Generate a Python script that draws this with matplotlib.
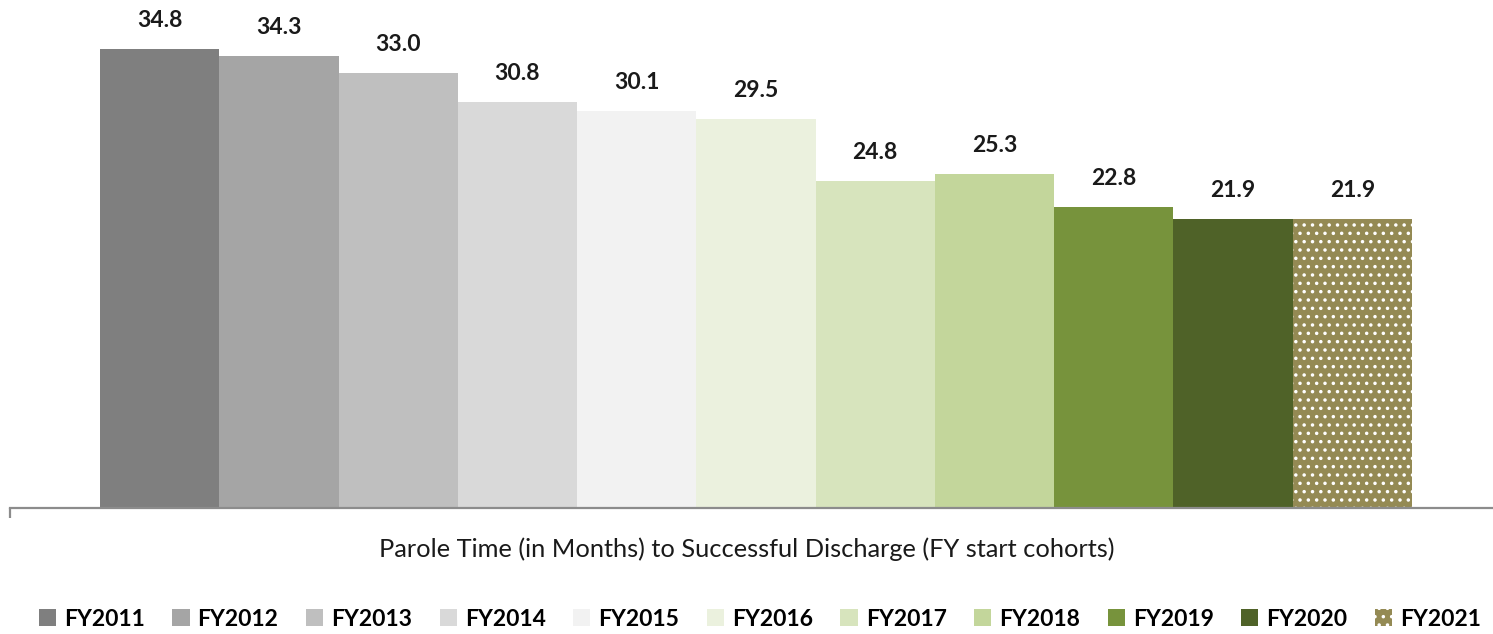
import matplotlib
matplotlib.use("Agg")
import matplotlib.pyplot as plt
from matplotlib.patches import Patch

plt.rcParams['font.family'] = ['Lato', 'DejaVu Sans']
plt.rcParams['hatch.linewidth'] = 1.3

years = ["FY2011", "FY2012", "FY2013", "FY2014", "FY2015", "FY2016",
         "FY2017", "FY2018", "FY2019", "FY2020", "FY2021"]
months = [34.8, 34.3, 33.0, 30.8, 30.1, 29.5, 24.8, 25.3, 22.8, 21.9, 21.9]
colors = ["#7f7f7f", "#a5a5a5", "#bfbfbf", "#d9d9d9", "#f2f2f2", "#ebf1de",
          "#d7e4bd", "#c3d69b", "#77933c", "#4f6228", "#948a54"]
category = "Parole Time (in Months) to Successful Discharge (FY start cohorts)"

fig = plt.figure(figsize=(14.93, 6.34), dpi=100)
ax = fig.add_axes([10/1493, 126/634, 1 - 10/1493, 501/634])

handles = []
for i, (yr, v, c) in enumerate(zip(years, months, colors)):
    if yr == "FY2021":  # dotted fill like the original
        ax.bar(i, v, width=1.0, color=c, edgecolor="white", linewidth=0, hatch="..")
        handles.append(Patch(facecolor=c, edgecolor="white", linewidth=0, hatch="..", label=yr))
    else:
        ax.bar(i, v, width=1.0, color=c, linewidth=0)
        handles.append(Patch(facecolor=c, linewidth=0, label=yr))
    ax.annotate(f"{v:.1f}", (i, v), xytext=(0, 13), textcoords="offset points",
                ha="center", va="bottom", fontsize=16.5, fontweight="bold", color="#1a1a1a")

ax.set_xlim(-1.255, 11.18)
ax.set_ylim(0, 38)
for s in ["top", "right", "left"]:
    ax.spines[s].set_visible(False)
ax.spines["bottom"].set_color("#8c8c8c")
ax.spines["bottom"].set_linewidth(1.6)
ax.set_yticks([])
ax.set_xticks([-1.255])
ax.tick_params(axis="x", length=7, width=1.6, color="#8c8c8c", labelbottom=False)

fig.text(747/1493, 1 - 549/634, category, ha="center", va="center", fontsize=18.3, color="#1a1a1a")

fig.legend(handles=handles, loc="center", bbox_to_anchor=(760/1493, 1 - 619/634), ncol=11,
           frameon=False, prop={"weight": "bold", "size": 16.5},
           handlelength=0.75, handleheight=0.75, handletextpad=0.35, columnspacing=1.2)

fig.savefig("out.png", dpi=100)
